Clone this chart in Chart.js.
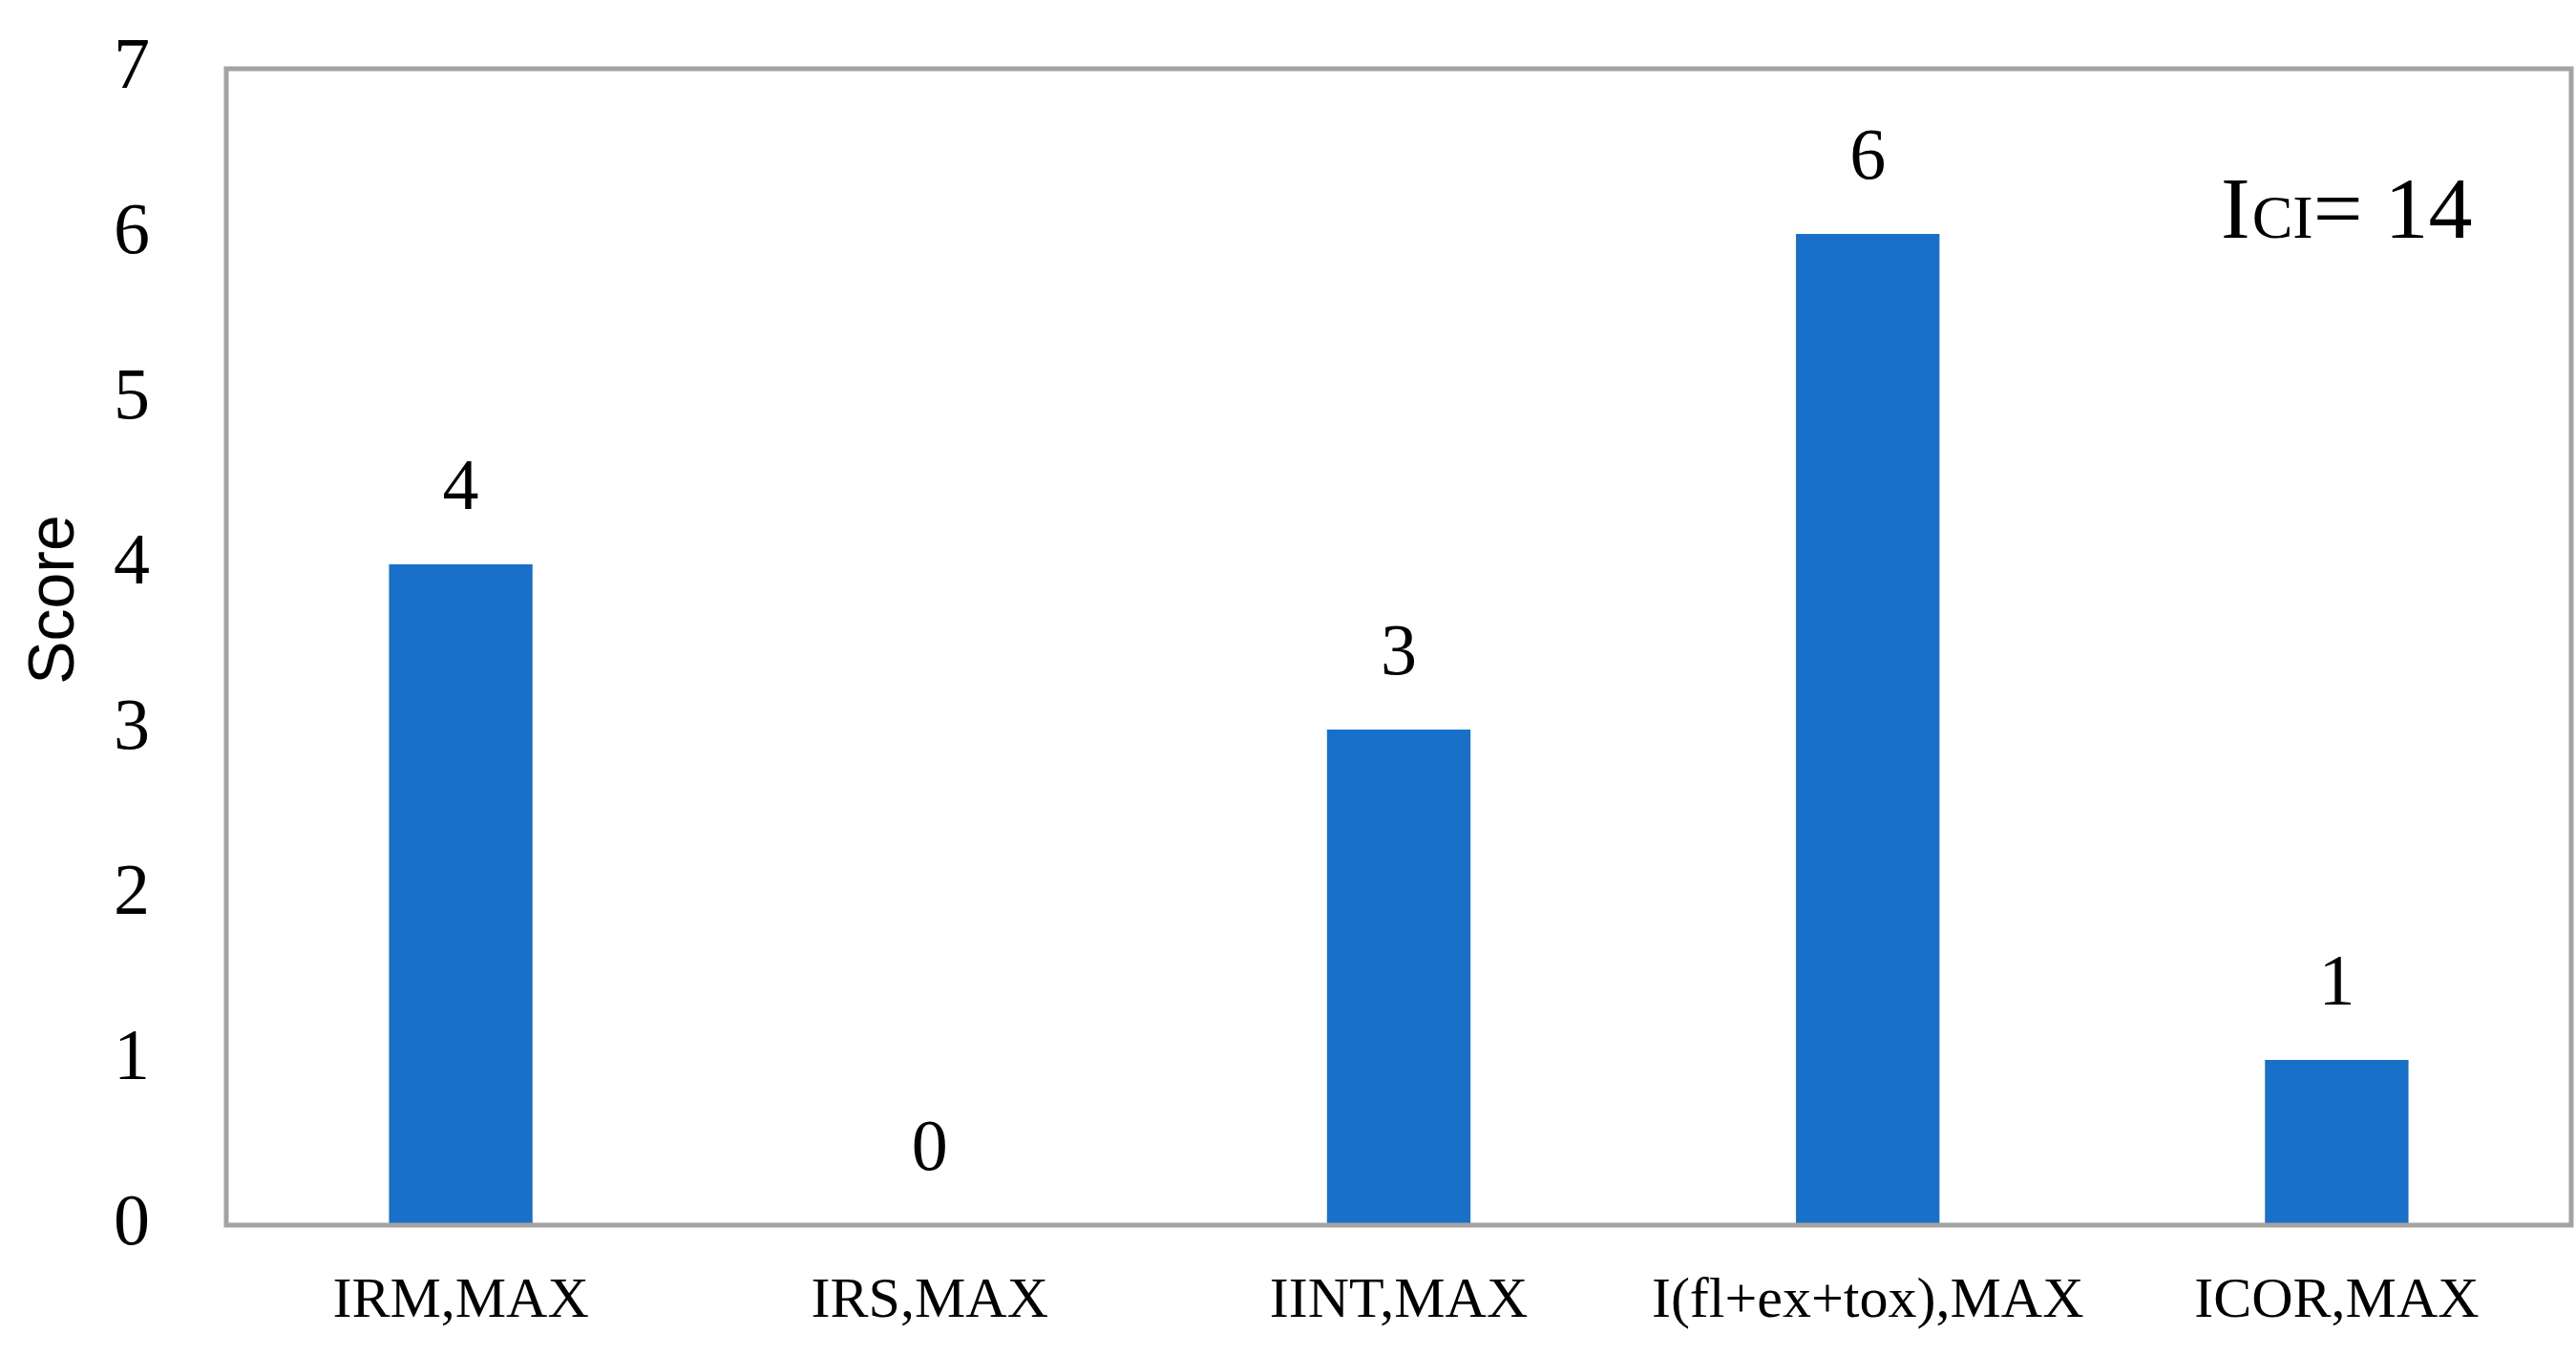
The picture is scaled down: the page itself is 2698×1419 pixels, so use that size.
<!DOCTYPE html>
<html>
<head>
<meta charset="utf-8">
<script src="https://cdn.jsdelivr.net/npm/chart.js@4.4.1/dist/chart.umd.min.js"></script>
<style>
  html, body { margin: 0; padding: 0; background: #fff; }
  canvas { display: block; }
</style>
</head>
<body>
<canvas id="scoreChart" width="2698" height="1419"></canvas>
<script>
const categories = ['IRM,MAX', 'IRS,MAX', 'IINT,MAX', 'I(fl+ex+tox),MAX', 'ICOR,MAX'];
const scores = [4, 0, 3, 6, 1];
const yTicks = [0, 1, 2, 3, 4, 5, 6, 7];
const totalLabel = { main: 'I', sub: 'CI', rest: '= 14' };

const serif = '"Liberation Serif", "DejaVu Serif", serif';

// frame around the plot area
const framePlugin = {
  id: 'frame',
  afterDraw(chart) {
    const { ctx, chartArea: a } = chart;
    ctx.save();
    ctx.strokeStyle = '#a3a3a3';
    ctx.lineWidth = 5;
    ctx.strokeRect(a.left, a.top, a.right - a.left, a.bottom - a.top);
    ctx.restore();
  }
};

// values above bars
const valueLabels = {
  id: 'valueLabels',
  afterDatasetsDraw(chart) {
    const { ctx } = chart;
    const meta = chart.getDatasetMeta(0);
    ctx.save();
    ctx.font = '76px ' + serif;
    ctx.fillStyle = '#000';
    ctx.textAlign = 'center';
    ctx.textBaseline = 'alphabetic';
    meta.data.forEach((bar, i) => {
      ctx.fillText(String(scores[i]), bar.x, bar.y - 58);
    });
    ctx.restore();
  }
};

// axis title and the total annotation
const extraText = {
  id: 'extraText',
  afterDraw(chart) {
    const { ctx } = chart;
    ctx.save();
    ctx.fillStyle = '#000';

    ctx.translate(58, 628);
    ctx.rotate(-Math.PI / 2);
    ctx.font = '68px "Liberation Sans", Arial, sans-serif';
    ctx.textAlign = 'center';
    ctx.textBaseline = 'middle';
    ctx.fillText('Score', 0, 0);
    ctx.setTransform(1, 0, 0, 1, 0, 0);

    ctx.textAlign = 'left';
    ctx.textBaseline = 'alphabetic';
    let x = 2326;
    const y = 249;
    ctx.font = '92px ' + serif;
    ctx.fillText(totalLabel.main, x, y);
    x += ctx.measureText(totalLabel.main).width + 2;
    ctx.font = '64px ' + serif;
    ctx.fillText(totalLabel.sub, x, y);
    x += ctx.measureText(totalLabel.sub).width;
    ctx.font = '92px ' + serif;
    ctx.fillText(totalLabel.rest, x, y);
    ctx.restore();
  }
};

window.addEventListener('load', () => {
  const ctx = document.getElementById('scoreChart').getContext('2d');
  new Chart(ctx, {
    type: 'bar',
    data: {
      labels: categories,
      datasets: [{
        data: scores,
        backgroundColor: '#1870c9',
        borderWidth: 0,
        categoryPercentage: 1,
        barPercentage: 0.306
      }]
    },
    options: {
      responsive: false,
      animation: false,
      devicePixelRatio: 1,
      layout: { padding: { top: 72, right: 5, left: 0, bottom: 0 } },
      plugins: {
        legend: { display: false },
        tooltip: { enabled: false }
      },
      scales: {
        x: {
          grid: { display: false, drawTicks: false },
          border: { display: false },
          ticks: {
            color: '#000',
            font: { family: serif, size: 60 },
            padding: 44,
            maxRotation: 0,
            autoSkip: false
          },
          afterFit(scale) { scale.height = 136; }
        },
        y: {
          min: 0,
          max: 7,
          grid: { display: false, drawTicks: false },
          border: { display: false },
          afterBuildTicks(scale) {
            scale.ticks = yTicks.map(v => ({ value: v }));
          },
          ticks: {
            color: '#000',
            font: { family: serif, size: 76 },
            padding: 80
          },
          afterFit(scale) {
            scale.width = 237;
            scale.paddingTop = 0;
            scale.paddingBottom = 0;
          }
        }
      }
    },
    plugins: [framePlugin, valueLabels, extraText]
  });
});
</script>
</body>
</html>
